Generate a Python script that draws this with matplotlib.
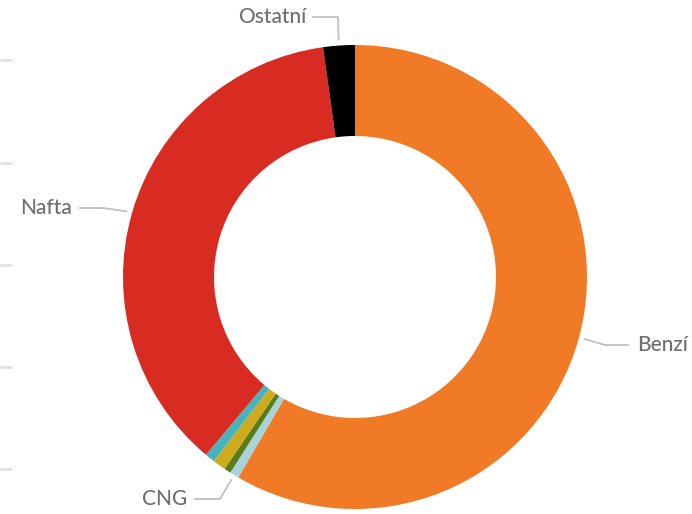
import numpy as np
import matplotlib
matplotlib.use("Agg")
import matplotlib.pyplot as plt

# Data (share in %), clockwise from 12 o'clock
categories = ["Benzín", "CNG", "LPG", "Elektro", "Hybrid", "Nafta", "Ostatní"]
values = [58.4, 0.64, 0.47, 0.9, 0.7, 36.7, 2.2]
colors = ["#f07a26", "#a7d4db", "#5a7b1b", "#cfab1b", "#4ab2bb", "#d82c22", "#000000"]
shown_labels = {"Benzín": "Benzí", "CNG": "CNG", "Nafta": "Nafta", "Ostatní": "Ostatní"}

W, H = 692, 514
fig = plt.figure(figsize=(W / 100, H / 100), dpi=100)
ax = fig.add_axes([0, 0, 1, 1])
ax.set_xlim(0, W)
ax.set_ylim(0, H)
ax.set_aspect("equal")
ax.axis("off")

cx, cy = 355, H - 277
R, r_in = 232, 141

wedges, _ = ax.pie(values, colors=colors, startangle=90, counterclock=False,
                   radius=R, center=(cx, cy),
                   wedgeprops=dict(width=R - r_in, linewidth=0))
ax.set_xlim(0, W)
ax.set_ylim(0, H)

# faint gridline remnants on the left
for yy in [60, 163, 265, 367, 469]:
    ax.plot([0, 12], [H - yy, H - yy], color="#e2e2e2", lw=2, solid_capstyle="butt")

txt_color = "#6f6f6f"
line_color = "#c0c0c0"
font = dict(family="Lato", size=15, weight="medium", color=txt_color)

# label layout (elbow and text positions, pixel coords from top)
layout = {
    "Benzín": dict(elbow=(605, 345), end=(628, 345), text=(637, 345), ha="left"),
    "Nafta": dict(elbow=(103, 208), end=(80, 208), text=(72, 208), ha="right"),
    "CNG": dict(elbow=(220, 499), end=(195, 499), text=(187, 499), ha="right"),
    "Ostatní": dict(elbow=(338, 17), end=(313, 17), text=(306, 17), ha="right"),
}

cum = np.cumsum([0] + values)
total = sum(values)
for i, cat in enumerate(categories):
    if cat not in shown_labels:
        continue
    mid = (cum[i] + cum[i + 1]) / 2 / total * 2 * np.pi
    ra = R + 6
    ax_, ay_ = cx + ra * np.sin(mid), cy + ra * np.cos(mid)
    L = layout[cat]
    ex, ey = L["elbow"][0], H - L["elbow"][1]
    fx, fy = L["end"][0], H - L["end"][1]
    ax.plot([ax_, ex, fx], [ay_, ey, fy], color=line_color, lw=1.3)
    ax.text(L["text"][0], H - L["text"][1], shown_labels[cat], ha=L["ha"], va="center",
            clip_on=False, **font)

fig.savefig("out.png", dpi=100)
